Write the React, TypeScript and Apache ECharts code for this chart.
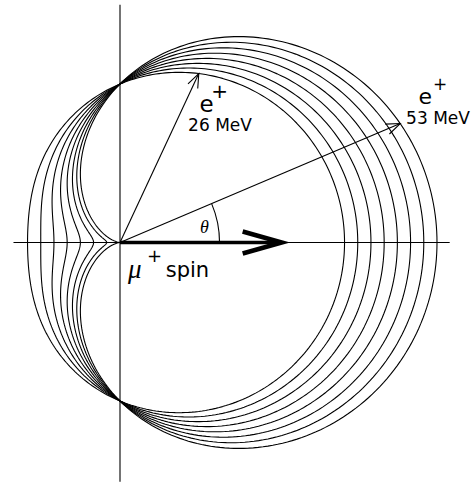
import React, { useEffect, useRef } from "react";
import * as echarts from "echarts";

// Asymmetry a of each angular distribution r(θ) = 1 + a·cos θ
const asymmetries = [5 / 12, 6 / 12, 7 / 12, 8 / 12, 9 / 12, 10 / 12, 11 / 12, 1];

// Positron emission arrows: energy label, direction (deg from spin), curve reached
const positronLabels = ["26 MeV", "53 MeV"];
const positronAngles = [65, 23];
const positronCurve = [0, 7];

// Muon spin arrow length (radius units)
const spinLength = 1.02;

const W = 472;
const H = 482;
const UNIT = 158.5; // px per radius unit
const CENTER: [number, number] = [120, 242.5];
const R_MAX = 2.2;

const deg = Math.PI / 180;
const sampleAngles: number[] = [];
for (let t = 0; t <= 360; t += 1) sampleAngles.push(t);

export default function App() {
  const ref = useRef<HTMLDivElement>(null);

  useEffect(() => {
    if (!ref.current) return;
    const chart = echarts.init(ref.current, undefined, { renderer: "svg" });

    const black = "#000";
    const lineBase = {
      type: "line" as const,
      coordinateSystem: "polar",
      polarIndex: 0,
      symbol: "none",
      showSymbol: false,
      clip: false,
      silent: true,
      animation: false,
    };

    const curveSeries = asymmetries.map((a) => ({
      ...lineBase,
      data: sampleAngles.map((t) => [1 + a * Math.cos(t * deg), t]),
      lineStyle: { color: black, width: 1.1 },
    }));

    const positronTips = positronAngles.map((t, i) => {
      const a = asymmetries[positronCurve[i]];
      return [1 + a * Math.cos(t * deg), t];
    });

    const series: any[] = [
      ...curveSeries,
      // horizontal and vertical reference lines through the muon
      {
        ...lineBase,
        data: [
          [0.672, 180],
          [2.08, 0],
        ],
        lineStyle: { color: black, width: 1.1 },
      },
      {
        ...lineBase,
        data: [
          [1.5, 90],
          [1.51, 270],
        ],
        lineStyle: { color: black, width: 1.1 },
      },
      // positron momentum shafts
      ...positronTips.map((tip) => ({
        ...lineBase,
        data: [[0, 0], tip],
        lineStyle: { color: black, width: 1.1 },
      })),
      // spin shaft
      {
        ...lineBase,
        data: [
          [0, 0],
          [spinLength - 0.03, 0],
        ],
        lineStyle: { color: black, width: 3.6, cap: "butt" },
      },
    ];

    chart.setOption({
      animation: false,
      polar: { center: CENTER, radius: [0, UNIT * R_MAX] },
      angleAxis: {
        type: "value",
        min: 0,
        max: 360,
        startAngle: 0,
        clockwise: false,
        axisLine: { show: false },
        axisTick: { show: false },
        axisLabel: { show: false },
        splitLine: { show: false },
      },
      radiusAxis: {
        type: "value",
        min: 0,
        max: R_MAX,
        axisLine: { show: false },
        axisTick: { show: false },
        axisLabel: { show: false },
        splitLine: { show: false },
      },
      series,
    });

    const toPx = (r: number, t: number): number[] =>
      chart.convertToPixel({ seriesIndex: 0 }, [r, t]) as number[];

    const origin = toPx(0, 0);
    const graphics: any[] = [];

    // open arrowheads on the positron shafts
    positronTips.forEach((tip) => {
      const p = toPx(tip[0], tip[1]);
      const back = Math.atan2(origin[1] - p[1], origin[0] - p[0]);
      const spread = 21 * deg;
      const len = 15;
      graphics.push({
        type: "polyline",
        silent: true,
        shape: {
          points: [
            [p[0] + len * Math.cos(back + spread), p[1] + len * Math.sin(back + spread)],
            p,
            [p[0] + len * Math.cos(back - spread), p[1] + len * Math.sin(back - spread)],
          ],
        },
        style: { stroke: black, lineWidth: 1.1, fill: "none" },
      });
    });

    // spin arrowhead
    const spinTip = toPx(spinLength, 0);
    graphics.push({
      type: "polyline",
      silent: true,
      shape: {
        points: [
          [spinTip[0] - 39, spinTip[1] - 11],
          spinTip,
          [spinTip[0] - 39, spinTip[1] + 11],
        ],
      },
      style: { stroke: black, lineWidth: 4.6, fill: "none", lineJoin: "miter" },
    });

    // angle arc between spin axis and the 53 MeV positron
    const arcR = toPx(0.628, 0)[0] - origin[0];
    graphics.push({
      type: "arc",
      silent: true,
      shape: {
        cx: origin[0],
        cy: origin[1],
        r: arcR,
        startAngle: -positronAngles[1] * deg,
        endAngle: 0,
        clockwise: true,
      },
      style: { stroke: black, lineWidth: 1.1, fill: "none" },
    });

    const txt = (
      text: string,
      x: number,
      y: number,
      font: string,
      align: string = "center"
    ) => ({
      type: "text",
      silent: true,
      x,
      y,
      style: { text, font, fill: black, align, verticalAlign: "middle" },
    });

    const sans = '"DejaVu Sans", sans-serif';
    const serif = '"Liberation Serif", "DejaVu Serif", serif';

    graphics.push(txt("θ", 204.3, 226.7, `italic 18px ${serif}`));
    graphics.push(txt("μ", 128, 269, `italic 27px ${serif}`, "left"));
    graphics.push(txt("+", 154.5, 255, `18px ${sans}`));
    graphics.push(txt("spin", 165.7, 269.5, `21px ${sans}`, "left"));

    graphics.push(txt("e", 206.7, 104.3, `23px ${sans}`));
    graphics.push(txt("+", 219.7, 91, `20px ${sans}`));
    graphics.push(txt(positronLabels[0], 220, 125.3, `17px ${sans}`));

    graphics.push(txt("e", 425.3, 96.6, `22px ${sans}`));
    graphics.push(txt("+", 440, 84, `17px ${sans}`));
    graphics.push(txt(positronLabels[1], 438, 117.5, `17px ${sans}`));

    chart.setOption({ graphic: graphics });

    return () => chart.dispose();
  }, []);

  return (
    <div
      ref={ref}
      style={{ position: "fixed", left: 0, top: 0, width: W, height: H, background: "#fff" }}
    />
  );
}
